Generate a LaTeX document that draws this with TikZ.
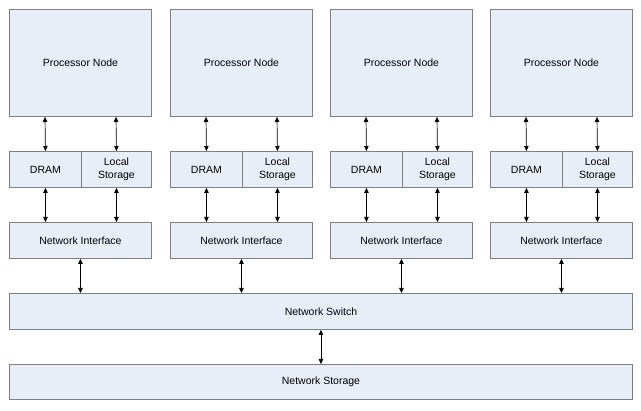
\documentclass[tikz,border=0pt]{standalone}
\usepackage{fontspec}
\setmainfont{Liberation Sans}
\usetikzlibrary{arrows.meta}
\definecolor{boxfill}{HTML}{E8EEF8}
\definecolor{boxline}{HTML}{7F7F7F}
\begin{document}
\begin{tikzpicture}[x=1pt,y=-1pt,
  box/.style={draw=boxline,fill=boxfill,line width=0.9pt,inner sep=0pt,font=\fontsize{10.5}{12.5}\selectfont,align=center},
  arr/.style={{Triangle[length=5pt,width=4.5pt]}-{Triangle[length=5pt,width=4.5pt]},line width=0.7pt,black}]
\fill[white] (0,0) rectangle (641,411);
\useasboundingbox (0,0) rectangle (641,411);
\foreach \i/\x in {1/9,2/170,3/330,4/490}{
  \node[box,minimum width=142pt,minimum height=107pt,anchor=north west] (p\i) at (\x,9) {Processor Node};
  \node[box,minimum width=72pt,minimum height=36pt,anchor=north west] (d\i) at (\x,151) {DRAM};
  \node[box,minimum width=70pt,minimum height=36pt,anchor=north west] (l\i) at (\x+72,151) {Local\\Storage};
  \node[box,minimum width=142pt,minimum height=36pt,anchor=north west] (n\i) at (\x,222) {Network Interface};
  \draw[arr] (p\i.south -| \x+36,0) -- (d\i.north);
  \draw[arr] (p\i.south -| \x+107,0) -- (l\i.north);
  \draw[arr] (d\i.south) -- (n\i.north -| d\i.south);
  \draw[arr] (l\i.south) -- (n\i.north -| l\i.south);
}
\node[box,minimum width=623pt,minimum height=36pt,anchor=north west] (sw) at (9,293) {Network Switch};
\node[box,minimum width=623pt,minimum height=35pt,anchor=north west] (st) at (9,364) {Network Storage};
\foreach \i in {1,2,3,4}{
  \draw[arr] (n\i.south) -- (sw.north -| n\i.south);
}
\draw[arr] (sw.south) -- (st.north);
\end{tikzpicture}
\end{document}
